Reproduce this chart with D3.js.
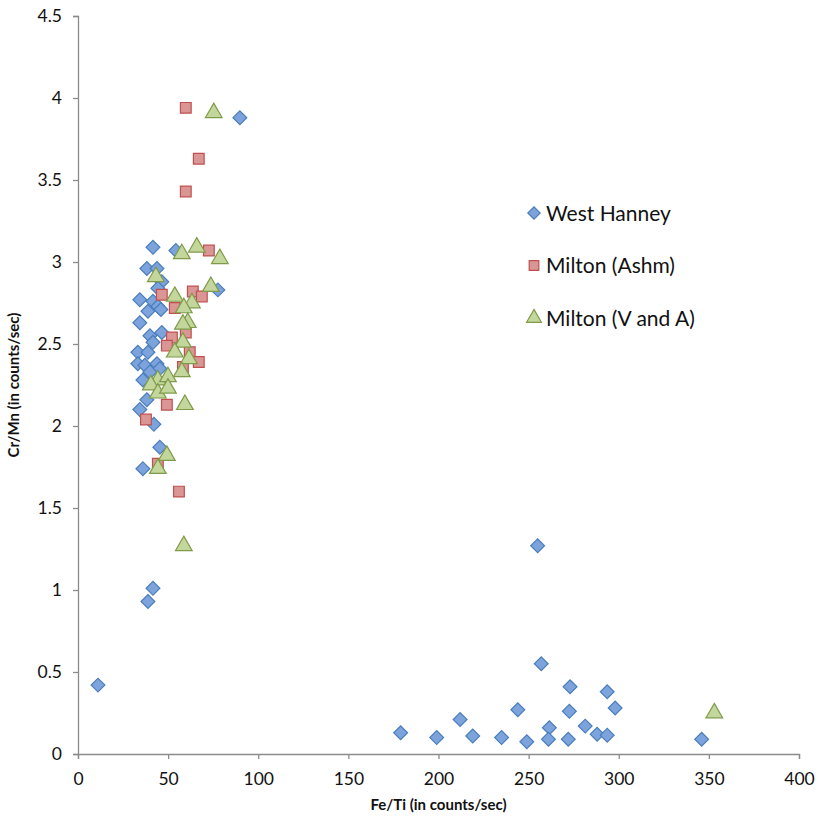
<!DOCTYPE html>
<html><head><meta charset="utf-8">
<script src="https://cdn.jsdelivr.net/npm/d3@7"></script>
<style>body{margin:0;background:#fff;} svg{display:block;}</style>
</head><body>
<script>
const westHanneyX = [11.1,89.8,41.6,54.3,38.2,43.8,46.5,44.3,77.6,34.3,41.6,44.3,38.8,46,34.3,39.9,46.5,41.6,33.2,38.8,33.2,37.1,43.8,45.4,39.9,36,38.2,34.3,42.1,45.4,36,41.6,38.8,
  179,199,212,219,235,244,249,255,257,261.5,261,273,272.6,272,281.4,288,293.6,293.6,298,346];
const westHanneyY = [0.42,3.88,3.09,3.07,2.96,2.96,2.88,2.84,2.83,2.77,2.76,2.73,2.70,2.71,2.63,2.55,2.57,2.51,2.45,2.45,2.38,2.37,2.38,2.35,2.33,2.28,2.16,2.10,2.01,1.87,1.74,1.01,0.93,
  0.13,0.10,0.21,0.11,0.10,0.27,0.075,1.27,0.55,0.16,0.09,0.41,0.26,0.09,0.17,0.12,0.38,0.115,0.28,0.09];
const miltonAshmX = [59.8,67,59.8,72.6,46.5,63.7,68.7,53.7,59.8,52.1,49.3,62,67,58.2,49.3,37.7,44.3,56];
const miltonAshmY = [3.94,3.63,3.43,3.07,2.80,2.82,2.79,2.72,2.57,2.54,2.49,2.45,2.39,2.36,2.13,2.04,1.77,1.60];
const miltonVAX = [75.3,57.6,65.9,78.7,43.2,53.7,73.7,63.2,58.7,60.9,58.2,58.2,53.7,61.5,57.6,44.3,49.9,40.4,44.3,49.9,59.3,49.3,44.3,58.7,353];
const miltonVAY = [3.91,3.05,3.09,3.02,2.91,2.79,2.85,2.75,2.72,2.63,2.62,2.51,2.45,2.41,2.33,2.28,2.30,2.25,2.20,2.23,2.13,1.82,1.74,1.27,0.25];
const xTicks = [0,50,100,150,200,250,300,350,400];
const yTicks = [0,0.5,1,1.5,2,2.5,3,3.5,4,4.5];
const seriesNames = ["West Hanney","Milton (Ashm)","Milton (V and A)"];

const W = 818, H = 823;
const m = {left:78, right:19, top:16, bottom:69};
const svg = d3.select("body").append("svg").attr("width",W).attr("height",H);
const x = d3.scaleLinear().domain([0,400]).range([m.left, W-m.right]);
const y = d3.scaleLinear().domain([0,4.5]).range([H-m.bottom, m.top]);
const font = "Lato, 'Open Sans', sans-serif";

const xa = svg.append("g").attr("transform",`translate(0,${H-m.bottom})`)
  .call(d3.axisBottom(x).tickValues(xTicks).tickSize(5).tickPadding(14).tickFormat(d3.format("d")));
const ya = svg.append("g").attr("transform",`translate(${m.left},0)`)
  .call(d3.axisLeft(y).tickValues(yTicks).tickSize(5).tickPadding(11).tickFormat(d=>String(d)));
[xa,ya].forEach(a=>{
  a.select(".domain").attr("stroke","#8c8c8c").attr("stroke-width",1.3);
  a.selectAll(".tick line").attr("stroke","#8c8c8c").attr("stroke-width",1.3);
  a.selectAll("text").attr("font-family",font).attr("font-size",17.5).attr("fill","#111");
});

const styles = [
  {type:d3.symbolSquare, size:95, rot:45, fill:"#7da3dd", stroke:"#4a7ebb"},
  {type:d3.symbolSquare, size:115, rot:0, fill:"#d99694", stroke:"#c0504d"},
  {type:d3.symbolTriangle, size:120, rot:0, fill:"#c3d69b", stroke:"#7f9a48"}
];
const series = [
  d3.zip(westHanneyX, westHanneyY),
  d3.zip(miltonAshmX, miltonAshmY),
  d3.zip(miltonVAX, miltonVAY)
];
series.forEach((pts,i)=>{
  const s = styles[i];
  svg.append("g").selectAll("path").data(pts).join("path")
    .attr("d", d3.symbol().type(s.type).size(s.size))
    .attr("transform", d=>`translate(${x(d[0])},${y(d[1])}) rotate(${s.rot})`)
    .attr("fill", s.fill).attr("stroke", s.stroke).attr("stroke-width",1.2);
});

// legend
const lg = svg.append("g");
seriesNames.forEach((n,i)=>{
  const s = styles[i];
  const yy = 213 + i*52.5;
  lg.append("path").attr("d", d3.symbol().type(s.type).size(s.size*0.8))
    .attr("transform",`translate(534,${yy}) rotate(${s.rot})`)
    .attr("fill", s.fill).attr("stroke", s.stroke).attr("stroke-width",1.2);
  lg.append("text").attr("x",546).attr("y",yy).attr("dy","0.36em")
    .attr("font-family",font).attr("font-size",21).attr("fill","#111").text(n);
});

svg.append("text").attr("x", (m.left + W-m.right)/2).attr("y", 810)
  .attr("text-anchor","middle").attr("font-family",font).attr("font-weight","bold")
  .attr("font-size",15).attr("fill","#111").text("Fe/Ti (in counts/sec)");
svg.append("text").attr("transform",`translate(19,${(m.top + H-m.bottom)/2}) rotate(-90)`)
  .attr("text-anchor","middle").attr("font-family",font).attr("font-weight","bold")
  .attr("font-size",15).attr("fill","#111").text("Cr/Mn (in counts/sec)");
</script>
</body></html>
